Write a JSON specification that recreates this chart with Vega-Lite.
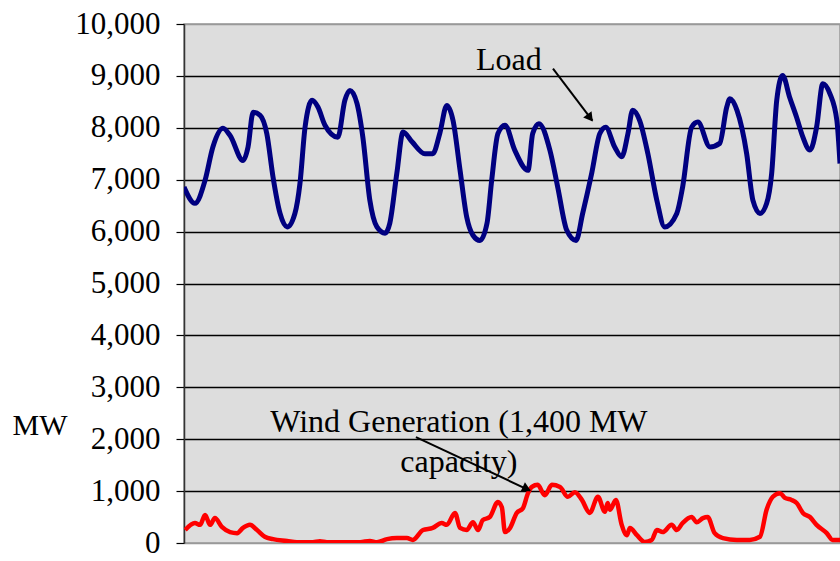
{
  "$schema": "https://vega.github.io/schema/vega-lite/v6.json",
  "autosize": {"type": "none"},
  "padding": {"left": 184, "top": 24, "right": 0, "bottom": 18},
  "width": 656,
  "height": 519,
  "background": "white",
  "config": {
    "view": {"fill": "#dddddd", "stroke": "#999999", "strokeWidth": 1.5},
    "font": "Liberation Serif"
  },
  "datasets": {
    "load": [
      {"t": 0, "v": 6860}, {"t": 2.8, "v": 6545}, {"t": 5.4, "v": 6990}, {"t": 7.4, "v": 7630},
      {"t": 10.0, "v": 7990}, {"t": 11.8, "v": 7850}, {"t": 15.1, "v": 7370}, {"t": 16.4, "v": 7630},
      {"t": 17.7, "v": 8300}, {"t": 19.5, "v": 8240}, {"t": 21.2, "v": 7890}, {"t": 22.8, "v": 7050},
      {"t": 24.6, "v": 6350}, {"t": 26.4, "v": 6090}, {"t": 28.4, "v": 6350}, {"t": 29.7, "v": 6930},
      {"t": 31.0, "v": 8010}, {"t": 32.8, "v": 8530}, {"t": 34.3, "v": 8400}, {"t": 36.1, "v": 8050},
      {"t": 39.4, "v": 7820}, {"t": 41.2, "v": 8530}, {"t": 42.5, "v": 8720}, {"t": 44.3, "v": 8470},
      {"t": 45.8, "v": 7820}, {"t": 47.6, "v": 6600}, {"t": 49.4, "v": 6090}, {"t": 51.5, "v": 5970},
      {"t": 52.7, "v": 6160}, {"t": 54.5, "v": 7120}, {"t": 56.1, "v": 7920}, {"t": 58.4, "v": 7730},
      {"t": 61.7, "v": 7500}, {"t": 63.7, "v": 7500}, {"t": 65.5, "v": 7890}, {"t": 67.3, "v": 8430},
      {"t": 68.9, "v": 8140}, {"t": 70.7, "v": 7180}, {"t": 72.4, "v": 6280}, {"t": 74.0, "v": 5930},
      {"t": 75.8, "v": 5830}, {"t": 77.6, "v": 6160}, {"t": 78.8, "v": 6990}, {"t": 80.4, "v": 7890},
      {"t": 82.2, "v": 8050}, {"t": 84.7, "v": 7570}, {"t": 88.1, "v": 7180}, {"t": 89.3, "v": 7890},
      {"t": 90.9, "v": 8080}, {"t": 93.7, "v": 7570}, {"t": 95.7, "v": 6860}, {"t": 98.0, "v": 6030},
      {"t": 100.4, "v": 5830}, {"t": 102.1, "v": 6350}, {"t": 104.4, "v": 7120}, {"t": 106.5, "v": 7890},
      {"t": 108.0, "v": 8010}, {"t": 110.3, "v": 7630}, {"t": 112.1, "v": 7440}, {"t": 113.7, "v": 7890},
      {"t": 114.9, "v": 8340}, {"t": 116.7, "v": 8140}, {"t": 118.8, "v": 7500}, {"t": 121.1, "v": 6600},
      {"t": 123.1, "v": 6090}, {"t": 126.2, "v": 6350}, {"t": 127.7, "v": 6860}, {"t": 130.0, "v": 8010},
      {"t": 131.6, "v": 8110}, {"t": 134.7, "v": 7630}, {"t": 137.2, "v": 7700}, {"t": 139.0, "v": 8400},
      {"t": 139.8, "v": 8560}, {"t": 141.6, "v": 8340}, {"t": 144.1, "v": 7500}, {"t": 145.7, "v": 6600},
      {"t": 147.5, "v": 6350}, {"t": 149.2, "v": 6540}, {"t": 150.5, "v": 7120}, {"t": 151.8, "v": 8530},
      {"t": 153.3, "v": 9010}, {"t": 155.1, "v": 8590}, {"t": 156.9, "v": 8200}, {"t": 158.5, "v": 7820},
      {"t": 160.3, "v": 7570}, {"t": 162.0, "v": 8010}, {"t": 163.6, "v": 8850}, {"t": 165.4, "v": 8660},
      {"t": 167.2, "v": 8140}, {"t": 168.0, "v": 7310}
    ],
    "wind": [
      {"t": 0.3, "v": 250}, {"t": 2.8, "v": 385}, {"t": 4.1, "v": 350}, {"t": 5.4, "v": 540},
      {"t": 6.7, "v": 350}, {"t": 7.9, "v": 480}, {"t": 9.7, "v": 310}, {"t": 11.8, "v": 210},
      {"t": 13.6, "v": 190}, {"t": 15.1, "v": 290}, {"t": 16.9, "v": 350}, {"t": 18.7, "v": 250},
      {"t": 20.7, "v": 120}, {"t": 22.8, "v": 75}, {"t": 26.4, "v": 40}, {"t": 28.9, "v": 15},
      {"t": 33.0, "v": 15}, {"t": 34.8, "v": 35}, {"t": 36.6, "v": 15}, {"t": 45.1, "v": 15},
      {"t": 47.6, "v": 40}, {"t": 49.4, "v": 15}, {"t": 52.0, "v": 75}, {"t": 54.5, "v": 95},
      {"t": 57.1, "v": 95}, {"t": 58.6, "v": 60}, {"t": 61.2, "v": 250}, {"t": 63.7, "v": 290},
      {"t": 66.0, "v": 385}, {"t": 67.3, "v": 350}, {"t": 69.4, "v": 580}, {"t": 70.7, "v": 290},
      {"t": 72.4, "v": 250}, {"t": 74.0, "v": 400}, {"t": 75.3, "v": 250}, {"t": 76.5, "v": 440},
      {"t": 78.3, "v": 500}, {"t": 80.4, "v": 790}, {"t": 81.4, "v": 690}, {"t": 82.2, "v": 210},
      {"t": 83.5, "v": 290}, {"t": 85.2, "v": 580}, {"t": 86.8, "v": 670}, {"t": 88.1, "v": 960},
      {"t": 89.1, "v": 1080}, {"t": 90.6, "v": 1120}, {"t": 92.4, "v": 920}, {"t": 94.2, "v": 1120},
      {"t": 96.3, "v": 1080}, {"t": 98.3, "v": 890}, {"t": 100.1, "v": 980}, {"t": 101.9, "v": 830},
      {"t": 103.9, "v": 580}, {"t": 106.0, "v": 890}, {"t": 107.8, "v": 600}, {"t": 108.5, "v": 770},
      {"t": 109.1, "v": 640}, {"t": 110.6, "v": 830}, {"t": 112.1, "v": 350}, {"t": 113.4, "v": 150},
      {"t": 114.2, "v": 290}, {"t": 116.0, "v": 150}, {"t": 118.0, "v": 20}, {"t": 119.8, "v": 60},
      {"t": 121.1, "v": 250}, {"t": 122.6, "v": 210}, {"t": 124.9, "v": 350}, {"t": 126.2, "v": 250},
      {"t": 127.7, "v": 385}, {"t": 130.0, "v": 500}, {"t": 131.3, "v": 400}, {"t": 132.9, "v": 480},
      {"t": 134.1, "v": 500}, {"t": 135.9, "v": 190}, {"t": 138.0, "v": 95}, {"t": 141.6, "v": 60},
      {"t": 144.9, "v": 60}, {"t": 147.5, "v": 120}, {"t": 149.2, "v": 640}, {"t": 150.8, "v": 890},
      {"t": 152.6, "v": 960}, {"t": 153.9, "v": 870}, {"t": 155.6, "v": 830}, {"t": 156.9, "v": 770},
      {"t": 158.5, "v": 580}, {"t": 160.3, "v": 500}, {"t": 162.0, "v": 350}, {"t": 164.6, "v": 190},
      {"t": 166.1, "v": 60}, {"t": 168.0, "v": 60}
    ],
    "labels": [
      {"t": 83.2, "v": 9300, "label": "Load"},
      {"t": 70.4, "v": 2330, "label": "Wind Generation (1,400 MW"},
      {"t": 70.4, "v": 1560, "label": "capacity)"}
    ],
    "arrows": [
      {"t": 94.5, "v": 9140, "t2": 104.6, "v2": 8140},
      {"t": 59.4, "v": 2040, "t2": 88.6, "v2": 1010}
    ],
    "heads": [
      {"t": 104.0, "v": 8190, "ang": 143},
      {"t": 87.8, "v": 1040, "ang": 115}
    ]
  },
  "encoding": {
    "x": {"field": "t", "type": "quantitative", "scale": {"domain": [0, 168], "nice": false}, "axis": null},
    "y": {
      "field": "v", "type": "quantitative",
      "scale": {"domain": [0, 10000], "nice": false},
      "axis": {
        "title": "MW", "titleAngle": 0, "titleFont": "Liberation Serif", "titleFontSize": 30,
        "titleFontWeight": "normal", "titleColor": "black", "titleAlign": "left", "titleBaseline": "middle",
        "titleX": -172, "titleY": 401,
        "values": [0, 1000, 2000, 3000, 4000, 5000, 6000, 7000, 8000, 9000, 10000],
        "format": ",d", "labelFont": "Liberation Serif", "labelFontSize": 31, "labelColor": "black",
        "labelPadding": 16, "tickSize": 8, "tickColor": "black", "tickWidth": 1.2,
        "domainColor": "#333333", "domainWidth": 1.5,
        "gridColor": {"condition": {"test": "datum.value === 0 || datum.value === 10000", "value": "#999999"}, "value": "black"},
        "gridWidth": 1.5
      }
    }
  },
  "layer": [
    {"data": {"name": "load"}, "mark": {"type": "line", "color": "#000080", "strokeWidth": 5, "interpolate": "monotone", "clip": true}},
    {"data": {"name": "wind"}, "mark": {"type": "line", "color": "#ff0000", "strokeWidth": 4.5, "interpolate": "monotone", "clip": true}},
    {
      "data": {"name": "arrows"},
      "mark": {"type": "rule", "color": "black", "strokeWidth": 2},
      "encoding": {"x2": {"field": "t2"}, "y2": {"field": "v2"}}
    },
    {
      "data": {"name": "heads"},
      "mark": {"type": "point", "shape": "triangle-up", "filled": true, "color": "black", "size": 110, "opacity": 1},
      "encoding": {"angle": {"field": "ang", "type": "quantitative", "scale": null}}
    },
    {
      "data": {"name": "labels"},
      "mark": {"type": "text", "font": "Liberation Serif", "fontSize": 32, "color": "black", "align": "center", "baseline": "middle"},
      "encoding": {"text": {"field": "label"}}
    }
  ]
}
